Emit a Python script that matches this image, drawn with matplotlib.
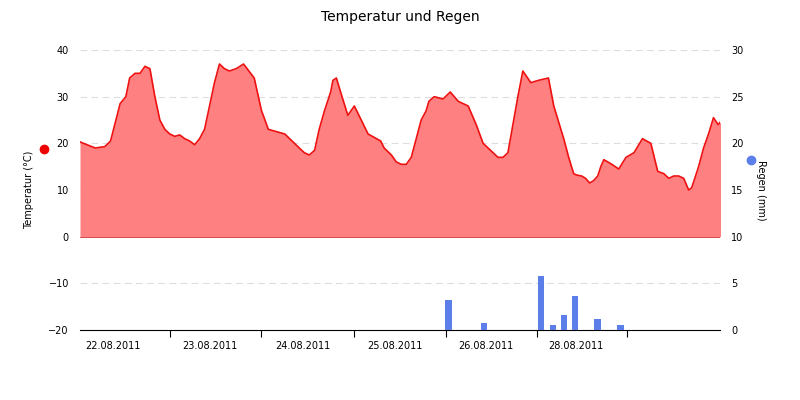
import matplotlib.pyplot as plt
from matplotlib.lines import Line2D

# Stunden seit Beginn (21.08.2011 ca. 15 Uhr), Temperatur in °C
stunden = [0, 4, 6.5, 8, 10.5, 12, 13, 14.4, 15.7, 17, 18.3, 19.6, 20.9, 22.2, 23.5, 24.8, 26.1,
           27.4, 28.7, 30, 31.3, 32.6, 33.9, 35.2, 36.5, 37.8, 39.1, 40.9, 42.8, 45.6, 47.5, 49.3,
           53.6, 55.5, 57.4, 58.7, 60, 61.4, 62.6, 64, 65.6, 66.2, 67.1, 68.2, 70.1, 71.8, 73.6,
           75.4, 78.7, 79.6, 81.5, 82.8, 84.1, 85.4, 86.7, 88, 89.3, 90.6, 91.3, 92.7, 95,
           96.9, 99, 101.6, 103.7, 105.5, 106.8, 108.1, 109.4, 110.7, 112, 113.3, 114.6, 115.9,
           118, 120, 122.6, 124, 126.6, 127.9, 129.2, 130, 131.3, 132.3, 133.4, 134.4, 135.5,
           136.3, 137.1, 139.2, 141, 142.9, 145, 147.2, 149.4, 151.2, 152.8, 154.1, 155.4,
           156.7, 158, 159.3, 160.1, 161.9, 163.2, 164.5, 165.8, 167]
temperatur = [20.3, 19, 19.3, 20.5, 28.5, 30, 34, 35, 35, 36.5, 36, 30, 25, 23, 22, 21.5, 21.8,
              21, 20.5, 19.7, 21, 23, 28, 33, 37, 36, 35.5, 36, 37, 34, 27, 23,
              22, 20.5, 19, 18, 17.5, 18.5, 23, 27, 31, 33.5, 34, 31, 26, 28, 25,
              22, 20.5, 19, 17.5, 16, 15.5, 15.5, 17, 21, 25, 27, 29, 30, 29.5,
              31, 29, 28, 24, 20, 19, 18, 17, 17, 18, 24, 30, 35.5,
              33, 33.5, 34, 28, 21, 17, 13.5, 13.2, 13, 12.5, 11.5, 12, 13,
              15, 16.5, 15.5, 14.5, 17, 18, 21, 20, 14, 13.5, 12.5, 13,
              13, 12.5, 10, 10.5, 15, 19, 22, 25.5, 24]
stunden += [168.5, 169.8, 170.6, 172.4, 173.7, 175, 176.3, 167.5 + 0]
temperatur += [25, 25.5, 23, 16, 13.5, 12.5, 12.5, 24.5]
paare = sorted(zip(stunden, temperatur))
stunden = [p[0] for p in paare]
temperatur = [p[1] for p in paare]

regen_stunden = [96.4, 105.8, 120.7, 123.8, 126.7, 129.6, 135.5, 141.5]
regen_mm = [3.2, 0.7, 5.8, 0.5, 1.6, 3.6, 1.2, 0.5]

tick_stunden = [23.5, 47.5, 71.8, 95.8, 119.6, 143.1]
label_stunden = [8.6, 33.9, 58.2, 82.5, 106.3, 129.8]
datum_labels = ['22.08.2011', '23.08.2011', '24.08.2011', '25.08.2011', '26.08.2011', '28.08.2011']

plt.rcParams['font.family'] = ['DejaVu Sans']
fig = plt.figure(figsize=(8, 4), dpi=100)
ax = fig.add_axes([0.1, 0.175, 0.8, 0.7])
ax.fill_between(stunden, temperatur, 0, color='#ff8080', lw=0)
ax.plot(stunden, temperatur, color='#ee1111', lw=1.2)
ax.axhline(0, color='#cc3333', lw=0.6)
ax.set_ylim(-20, 40)
ax.set_xlim(0, 167.5)
ax.set_yticks([-20, -10, 0, 10, 20, 30, 40])
for v in [-10, 10, 20, 30, 40]:
    ax.axhline(v, color='#dddddd', lw=0.8, ls=(0, (6, 4)), zorder=0)

ax2 = ax.twinx()
ax2.bar(regen_stunden, regen_mm, width=1.7, color='#5b7ee8')
ax2.set_ylim(0, 30)
ax2.set_yticks([0, 5, 10, 15, 20, 25, 30])

for a in (ax, ax2):
    for s in ['top', 'left', 'right']:
        a.spines[s].set_visible(False)
    a.tick_params(axis='y', length=0, labelsize=7, pad=8)
ax.spines['bottom'].set_color('black')
ax2.spines['bottom'].set_visible(False)

ax.set_xticks(tick_stunden)
ax.set_xticklabels([])
ax.tick_params(axis='x', length=5, direction='out', color='black')
ax.set_xticks(label_stunden, minor=True)
ax.set_xticklabels(datum_labels, minor=True, fontsize=7)
ax.tick_params(axis='x', which='minor', length=0, pad=8)

ax.set_ylabel('Temperatur (°C)', fontsize=7, labelpad=10)
ax2.set_ylabel('Regen (mm)', fontsize=7, rotation=270, labelpad=16)
fig.add_artist(Line2D([0.055], [0.627], marker='o', color='#ee0000', markersize=6, transform=fig.transFigure))
fig.add_artist(Line2D([0.939], [0.6], marker='o', color='#5b7ee8', markersize=6, transform=fig.transFigure))

fig.suptitle('Temperatur und Regen', fontsize=10, y=0.975)
fig.savefig('out.png', dpi=100)
